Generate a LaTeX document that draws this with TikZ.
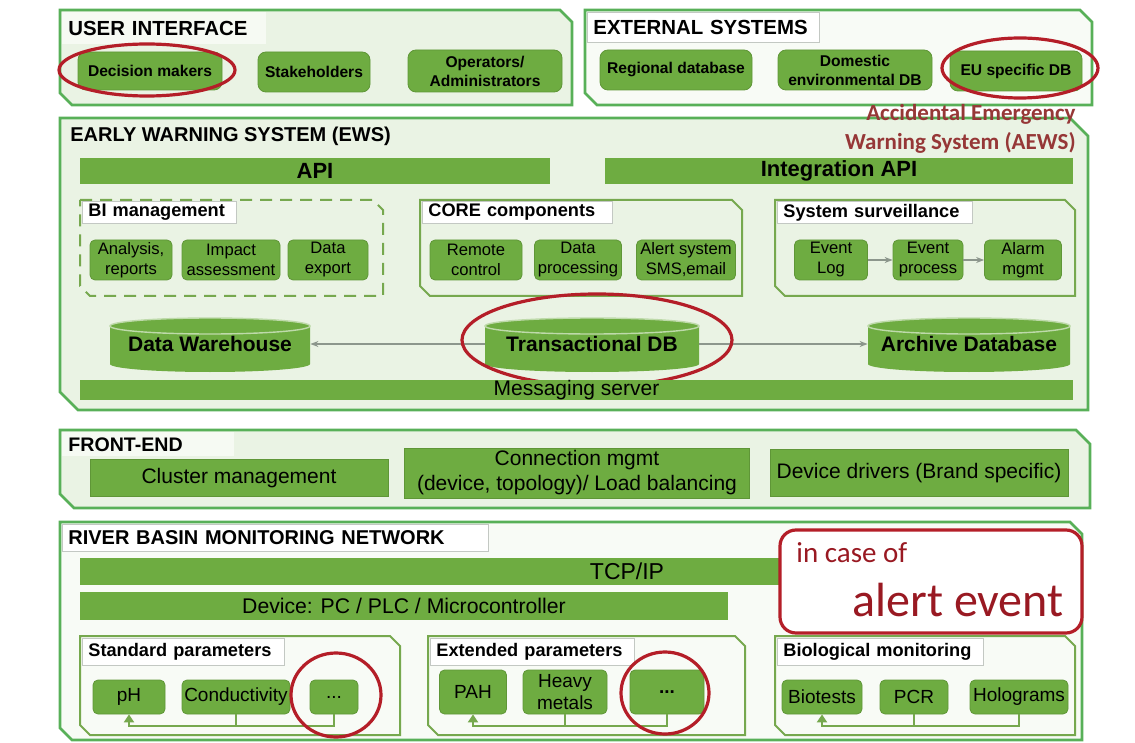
\documentclass[tikz,border=0pt]{standalone}
\usepackage{fontspec}
\setmainfont{Liberation Sans}
\newfontfamily\calib{Carlito}
\usetikzlibrary{arrows.meta,calc}
\definecolor{gfill}{RGB}{110,172,65}
\definecolor{gdark}{RGB}{95,150,55}
\definecolor{gline}{RGB}{88,176,88}
\definecolor{gsub}{RGB}{118,168,78}
\definecolor{ffill}{RGB}{234,243,228}
\definecolor{ffill2}{RGB}{248,251,246}
\definecolor{redc}{RGB}{180,30,40}
\definecolor{aews}{RGB}{150,55,55}
\definecolor{lblb}{RGB}{195,200,195}
\definecolor{conn}{RGB}{140,150,140}
\newcommand\fs[2]{\fontsize{#1}{#2}\selectfont}
\newcommand\frm[6][]{\draw[#1] (#2,-#3) -- (#4-#6,-#3) -- (#4,-#3-#6) -- (#4,-#5) -- (#2+#6,-#5) -- (#2,-#5+#6) -- cycle;}
\newcommand\cyl[6]{%
  \fill[gfill] (#2-#4,-#3+#5-8) -- (#2-#4,-#3-#5+8) arc[start angle=180,end angle=360,x radius=#4,y radius=8] -- (#2+#4,-#3+#5-8) arc[start angle=0,end angle=180,x radius=#4,y radius=8] -- cycle;
  \draw[white!55!gfill, line width=0.7pt] (#2,-#3+#5-8) ellipse[x radius=#4, y radius=8];
  \node[font=\bfseries\fs{10.5}{12}, minimum width=#4*1pt, inner sep=0pt] (#1) at (#2,-#3+1) {#6};}
\begin{document}
\begin{tikzpicture}[x=0.5pt,y=0.5pt,
  frame/.style={draw=gline, line width=1.4pt, fill=ffill},
  sub/.style={draw=gsub, line width=1pt, fill=ffill},
  gb/.style={fill=gfill, draw=gdark, line width=0.4pt, rounded corners=2.5pt, inner sep=1pt, align=center},
  topb/.style={gb, rounded corners=4pt, font=\bfseries\fs{7.8}{9.5}},
  midb/.style={gb, font=\fs{8.3}{10}},
  lowb/.style={gb, font=\fs{9.5}{11}},
  bar/.style={fill=gfill, inner sep=0pt},
  fbar/.style={fill=gfill, draw=gdark, line width=0.4pt, inner sep=0pt, align=center, font=\fs{10.5}{12.5}},
  ttl/.style={font=\bfseries\fs{10}{12}, inner sep=0pt},
  lbl/.style={anchor=north west, fill=white, draw=lblb, line width=0.4pt, inner xsep=3pt, inner ysep=0pt, align=left},
  slbl/.style={lbl, font=\bfseries\fs{9.1}{11}},
  redring/.style={draw=redc, line width=1.6pt},
  connarrow/.style={draw=conn, line width=0.6pt, -{Stealth[length=4pt,width=3pt]}},
  pline/.style={draw=gsub, line width=1pt}]
\useasboundingbox[fill=white] (0,0) rectangle (1135,-743);

% ---------- USER INTERFACE ----------
\frm[frame]{60}{10}{572}{105}{12}
\node[lbl, draw=none, fill=white!55!ffill, text width=96pt, minimum height=16pt, font=\bfseries\fs{10.2}{12}] (tUI) at (62,-12) {USER INTERFACE};
\node[topb, minimum width=72pt, minimum height=19pt] (dm) at (150,-71) {Decision makers};
\node[topb, minimum width=56pt, minimum height=20pt] (sh) at (314,-72) {Stakeholders};
\node[topb, minimum width=77pt, minimum height=21pt] (op) at (485,-71) {Operators/\\Administrators};
\draw[redring] (147,-70) ellipse[x radius=88, y radius=26];

% ---------- EXTERNAL SYSTEMS ----------
\frm[frame, fill=ffill2]{585}{10}{1092}{105}{12}
\node[lbl, text width=110pt, minimum height=15pt, font=\bfseries\fs{10.2}{12}] (tES) at (587,-12) {EXTERNAL SYSTEMS};
\node[topb, minimum width=76pt, minimum height=20pt] (rdb) at (676,-70) {Regional database};
\node[topb, minimum width=77pt, minimum height=20pt] (ddb) at (855,-70) {Domestic\\environmental DB};
\node[topb, minimum width=66pt, minimum height=20pt] (eu) at (1016,-71) {EU specific DB};
\draw[redring] (1020,-68) ellipse[x radius=78, y radius=30];

% ---------- EWS ----------
\frm[frame]{60}{118}{1088}{410}{18}
\node[ttl, anchor=west] (tEWS) at (70,-136) {EARLY WARNING SYSTEM (EWS)};
\node[font=\calib\bfseries\fs{11.5}{14.5}, text=aews, align=right, anchor=north east, inner sep=0pt] (aews) at (1076,-104) {Accidental Emergency\\Warning System (AEWS)};
\node[bar, minimum width=235pt, minimum height=13pt, font=\bfseries\fs{11}{13}] (api) at (315,-171) {API};
\node[bar, minimum width=234pt, minimum height=13pt, font=\bfseries\fs{11}{13}] (iapi) at (839,-171) {Integration API};

% BI management
\frm[sub, dashed, dash pattern=on 6pt off 4pt]{80}{200}{383}{296}{10}
\node[slbl, text width=71pt, minimum height=11pt] (lBI) at (82,-201) {BI management};
\node[midb, minimum width=41pt, minimum height=20pt] (an) at (131,-260) {Analysis,\\reports};
\node[midb, minimum width=49pt, minimum height=20pt] (ia) at (231,-260) {Impact\\assessment};
\node[midb, minimum width=40pt, minimum height=20pt] (de) at (328,-260) {Data\\export};

% CORE components
\frm[sub]{420}{200}{742}{296}{10}
\node[slbl, text width=89pt, minimum height=11pt] (lCO) at (422,-201) {CORE components};
\node[midb, minimum width=46pt, minimum height=20pt] (rc) at (476,-260) {Remote\\control};
\node[midb, minimum width=43.5pt, minimum height=20pt] (dp) at (578,-260) {Data\\processing};
\node[midb, minimum width=49.5pt, minimum height=20pt] (as) at (686,-260) {Alert system\\SMS,email};

% System surveillance
\frm[sub]{775}{200}{1075}{296}{10}
\node[slbl, text width=91.5pt, minimum height=11pt] (lSS) at (777,-201) {System surveillance};
\node[midb, minimum width=36.5pt, minimum height=20pt] (el) at (831,-260) {Event\\Log};
\node[midb, minimum width=35pt, minimum height=20pt] (ep) at (928,-260) {Event\\process};
\node[midb, minimum width=38.5pt, minimum height=20pt] (am) at (1023,-260) {Alarm\\mgmt};
\draw[connarrow] (el) -- (ep);
\draw[connarrow] (ep) -- (am);

% Databases
\cyl{dw}{210}{345}{100}{27}{Data Warehouse}
\cyl{tdb}{592}{345}{107}{27}{Transactional DB}
\cyl{adb}{969}{345}{101}{27}{Archive Database}
\draw[connarrow] (tdb.west) -- (dw.east);
\draw[connarrow] (tdb.east) -- (adb.west);
\draw[redring] (597,-340) ellipse[x radius=135, y radius=46];
\node[bar, minimum width=496.5pt, minimum height=10pt, font=\fs{10.5}{12}] (msg) at (576.5,-390) {Messaging server};

% ---------- FRONT-END ----------
\frm[frame]{60}{430}{1090}{508}{14}
\node[lbl, draw=none, fill=white!55!ffill, text width=80pt, minimum height=12pt, font=\bfseries\fs{9.8}{12}] (tFE) at (62,-432) {FRONT-END};
\node[fbar, minimum width=149pt, minimum height=18.5pt] (cm) at (239,-478) {Cluster management};
\node[fbar, minimum width=172.5pt, minimum height=25pt] (cn) at (577,-473) {Connection mgmt\\(device, topology)/ Load balancing};
\node[fbar, minimum width=149pt, minimum height=23.5pt] (dd) at (919,-473) {Device drivers (Brand specific)};

% ---------- RIVER BASIN MONITORING NETWORK ----------
\frm[frame, fill=ffill2]{60}{522}{1082}{740}{12}
\node[lbl, text width=207pt, minimum height=13.5pt, font=\bfseries\fs{10}{12}] (tRB) at (62,-524) {RIVER BASIN MONITORING NETWORK};
\node[bar, minimum width=460pt, minimum height=13.5pt] (tcp) at (540,-571.5) {};
\node[font=\fs{11.5}{13}, inner sep=0pt] (tcpl) at (627,-571.5) {TCP/IP};
\node[bar, minimum width=324pt, minimum height=14pt, font=\fs{10.6}{12}] (dev) at (404,-606) {Device: PC / PLC / Microcontroller};
\node[draw=redc, line width=1.6pt, fill=white, rounded corners=8pt, minimum width=151pt, minimum height=51.5pt] (alert) at (931,-581.5) {};
\node[font=\calib\fs{14.5}{16}, text=redc!85!black, anchor=west, inner sep=0pt] (inc) at (796,-553) {in case of};
\node[font=\calib\fs{24}{26}, text=redc!85!black, anchor=east, inner sep=0pt] (ae) at (1064,-600) {alert event};

% Standard parameters
\frm[sub, fill=ffill2]{80}{636}{400}{735}{10}
\node[slbl, text width=95pt, minimum height=13.5pt] (lSP) at (82,-638) {Standard parameters};
\node[lowb, minimum width=36pt, minimum height=17pt] (ph) at (129,-697) {pH};
\node[lowb, minimum width=54pt, minimum height=17pt] (cond) at (236,-697) {Conductivity};
\node[lowb, minimum width=24pt, minimum height=17pt] (d1) at (334,-697) {...};
\draw[pline, -{Triangle[length=4pt,width=5pt]}] (d1.south) -- ++(0,-12) -| (ph.south);
\draw[pline] (cond.south) -- ++(0,-12);
\draw[redring] (336,-695) ellipse[x radius=45, y radius=42];

% Extended parameters
\frm[sub, fill=ffill2]{428}{636}{745}{735}{10}
\node[slbl, text width=96pt, minimum height=13.5pt] (lEP) at (430,-638) {Extended parameters};
\node[lowb, minimum width=33.5pt, minimum height=22pt] (pah) at (473,-692) {PAH};
\node[lowb, minimum width=42pt, minimum height=22pt] (hm) at (565,-692) {Heavy\\metals};
\node[lowb, minimum width=37pt, minimum height=22pt, font=\bfseries\fs{9.5}{11}] (d2) at (667,-692) {...};
\draw[pline, -{Triangle[length=4pt,width=5pt]}] (d2.south) -- ++(0,-12) -| (pah.south);
\draw[pline] (hm.south) -- ++(0,-12);
\draw[redring] (665,-693) ellipse[x radius=44, y radius=41];

% Biological monitoring
\frm[sub, fill=ffill2]{775}{636}{1075}{735}{10}
\node[slbl, text width=97pt, minimum height=13.5pt] (lBM) at (777,-638) {Biological monitoring};
\node[lowb, minimum width=40pt, minimum height=17pt] (bt) at (822,-697) {Biotests};
\node[lowb, minimum width=34pt, minimum height=17pt] (pcr) at (914,-697) {PCR};
\node[lowb, minimum width=49pt, minimum height=17pt] (holo) at (1019,-697) {Holograms};
\draw[pline, -{Triangle[length=4pt,width=5pt]}] (holo.south) -- ++(0,-12) -| (bt.south);
\draw[pline] (pcr.south) -- ++(0,-12);
\end{tikzpicture}
\end{document}
